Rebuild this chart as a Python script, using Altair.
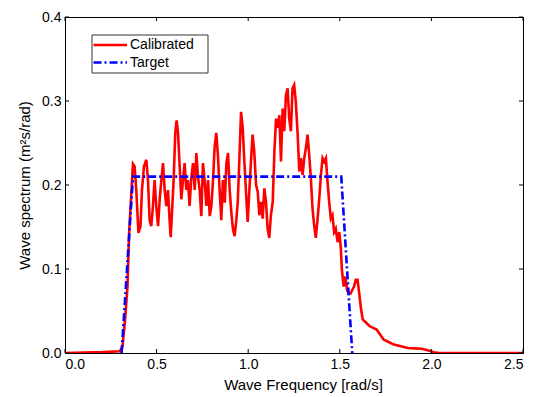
import altair as alt
import pandas as pd

# ---- data ----
series_names = ["Calibrated", "Target"]

calib_x = [0.0, 0.205, 0.299, 0.314, 0.328, 0.341, 0.350, 0.362, 0.371,
           0.380, 0.389, 0.401, 0.412, 0.420, 0.431, 0.444, 0.453, 0.462, 0.471, 0.480, 0.489,
           0.498, 0.508, 0.517, 0.526, 0.535, 0.544, 0.553, 0.562, 0.571, 0.577, 0.584, 0.593,
           0.602, 0.609, 0.617, 0.626, 0.635, 0.644, 0.653, 0.662, 0.671, 0.680, 0.690, 0.699,
           0.708, 0.717, 0.726, 0.735, 0.744, 0.753, 0.762, 0.772, 0.781, 0.790, 0.799, 0.808,
           0.817, 0.826, 0.835, 0.844, 0.853, 0.862, 0.872, 0.881, 0.890, 0.899, 0.908, 0.917,
           0.926, 0.935,
           0.943, 0.952, 0.961, 0.970, 0.979, 0.988, 0.997, 1.006, 1.015, 1.024, 1.033, 1.043,
           1.052, 1.061, 1.070, 1.079, 1.088, 1.097, 1.106, 1.115, 1.124, 1.134, 1.143, 1.152,
           1.161, 1.170, 1.179, 1.188, 1.197, 1.206, 1.215, 1.224, 1.233, 1.242, 1.251, 1.260,
           1.270, 1.279, 1.288, 1.297, 1.306, 1.315, 1.324, 1.333, 1.342, 1.351, 1.360, 1.369,
           1.379, 1.388, 1.397, 1.406, 1.415, 1.424, 1.433, 1.442, 1.451, 1.460, 1.469, 1.478,
           1.488, 1.497, 1.506,
           1.511, 1.521, 1.530, 1.540, 1.549, 1.559, 1.568, 1.578, 1.587, 1.597, 1.606, 1.616,
           1.625, 1.644, 1.663, 1.682, 1.701, 1.720, 1.739, 1.758, 1.795, 1.833, 1.871, 1.909,
           1.947, 1.985, 2.013, 2.042, 2.5]
calib_y = [0.0, 0.001, 0.002, 0.008, 0.040, 0.079, 0.143, 0.190, 0.225,
           0.222, 0.194, 0.143, 0.151, 0.194, 0.222, 0.230, 0.206, 0.158, 0.151, 0.175, 0.206,
           0.175, 0.151, 0.183, 0.206, 0.226, 0.194, 0.175, 0.194, 0.158, 0.138, 0.167, 0.206,
           0.262, 0.277, 0.262, 0.222, 0.183, 0.206, 0.226, 0.194, 0.206, 0.175, 0.210, 0.226,
           0.194, 0.238, 0.210, 0.194, 0.163, 0.226, 0.206, 0.175, 0.206, 0.163, 0.175, 0.206,
           0.246, 0.262, 0.234, 0.194, 0.158, 0.206, 0.179, 0.226, 0.238, 0.194, 0.167, 0.147,
           0.139, 0.158,
           0.180, 0.232, 0.287, 0.268, 0.228, 0.192, 0.156, 0.192, 0.228, 0.260, 0.240, 0.200,
           0.192, 0.164, 0.180, 0.160, 0.196, 0.180, 0.148, 0.137, 0.164, 0.180, 0.240, 0.279,
           0.268, 0.283, 0.228, 0.291, 0.264, 0.307, 0.315, 0.279, 0.264, 0.315, 0.319, 0.299,
           0.260, 0.216, 0.232, 0.212, 0.232, 0.244, 0.260, 0.236, 0.208, 0.172, 0.152, 0.137,
           0.160, 0.184, 0.212, 0.232, 0.228, 0.232, 0.204, 0.180, 0.160, 0.164, 0.144, 0.148,
           0.132, 0.144, 0.124,
           0.100, 0.079, 0.091, 0.075, 0.071, 0.071, 0.075, 0.079, 0.087, 0.087, 0.071, 0.052,
           0.040, 0.036, 0.032, 0.030, 0.028, 0.022, 0.016, 0.014, 0.010, 0.008, 0.006, 0.0055,
           0.005, 0.003, 0.001, 0.0, 0.0]

target_x = [0.309, 0.371, 1.508, 1.568]
target_y = [0.0, 0.21, 0.21, 0.0]

x_ticks = [0.0, 0.5, 1.0, 1.5, 2.0, 2.5]
y_ticks = [0.0, 0.1, 0.2, 0.3, 0.4]

W, H = 458, 336
FONT = "Arial, Liberation Sans, sans-serif"

calib_df = pd.DataFrame({"x": calib_x, "y": calib_y, "series": series_names[0]})
target_df = pd.DataFrame({"x": target_x, "y": target_y, "series": series_names[1]})
xt_df = pd.DataFrame({"t": x_ticks})
yt_df = pd.DataFrame({"t": y_ticks})

xscale = alt.Scale(domain=[0, 2.5], nice=False, zero=False)
yscale = alt.Scale(domain=[0, 0.4], nice=False, zero=False)

xaxis = alt.Axis(values=x_ticks, format=".1f", title="Wave Frequency [rad/s]", tickSize=0,
                 labelPadding=4, titlePadding=6, titleX=238, grid=False,
                 labelFont=FONT, labelFontSize=14, labelColor="black",
                 titleFont=FONT, titleFontSize=15, titleFontWeight="normal", titleColor="black",
                 domainColor="black")
yaxis = alt.Axis(values=y_ticks, format=".1f", title="Wave spectrum (m²s/rad)", tickSize=0,
                 labelPadding=4, titlePadding=9, grid=False,
                 labelFont=FONT, labelFontSize=14, labelColor="black",
                 titleFont=FONT, titleFontSize=15, titleFontWeight="normal", titleColor="black",
                 domainColor="black")

red = alt.Chart(calib_df).mark_line(color="#FF0000", strokeWidth=2.6, clip=True).encode(
    x=alt.X("x:Q", scale=xscale, axis=xaxis),
    y=alt.Y("y:Q", scale=yscale, axis=yaxis),
    order="x:Q",
)
blue = alt.Chart(target_df).mark_line(color="#0000FF", strokeWidth=2.6,
                                      strokeDash=[8, 3, 2, 3]).encode(
    x=alt.X("x:Q", scale=xscale),
    y=alt.Y("y:Q", scale=yscale),
    order="x:Q",
)

# inward ticks on all four sides
tick_len = 4
bt = alt.Chart(xt_df).mark_rule(color="black", strokeWidth=1).encode(
    x=alt.X("t:Q", scale=xscale), y=alt.value(H), y2=alt.value(H - tick_len))
tt = alt.Chart(xt_df).mark_rule(color="black", strokeWidth=1).encode(
    x=alt.X("t:Q", scale=xscale), y=alt.value(0), y2=alt.value(tick_len))
lt = alt.Chart(yt_df).mark_rule(color="black", strokeWidth=1).encode(
    y=alt.Y("t:Q", scale=yscale), x=alt.value(0), x2=alt.value(tick_len))
rt = alt.Chart(yt_df).mark_rule(color="black", strokeWidth=1).encode(
    y=alt.Y("t:Q", scale=yscale), x=alt.value(W), x2=alt.value(W - tick_len))

# legend box
leg_df = pd.DataFrame({"name": series_names})
box = alt.Chart(leg_df.head(1)).mark_rect(fill="white", stroke="#333333", strokeWidth=1).encode(
    x=alt.value(27), x2=alt.value(143), y=alt.value(18), y2=alt.value(56))
leg_red = alt.Chart(leg_df.head(1)).mark_rule(color="#FF0000", strokeWidth=2.6).encode(
    x=alt.value(28.5), x2=alt.value(62), y=alt.value(28))
leg_blue = alt.Chart(leg_df.head(1)).mark_rule(color="#0000FF", strokeWidth=2.6,
                                               strokeDash=[8, 3, 2, 3]).encode(
    x=alt.value(28.5), x2=alt.value(62), y=alt.value(45.5))
leg_t1 = alt.Chart(leg_df.iloc[[0]]).mark_text(align="left", baseline="middle", fontSize=14,
                                               font=FONT, color="black").encode(
    x=alt.value(65), y=alt.value(28), text="name:N")
leg_t2 = alt.Chart(leg_df.iloc[[1]]).mark_text(align="left", baseline="middle", fontSize=14,
                                               font=FONT, color="black").encode(
    x=alt.value(65), y=alt.value(45.5), text="name:N")

chart = alt.layer(red, blue, bt, tt, lt, rt, box, leg_red, leg_blue, leg_t1, leg_t2).properties(
    width=W, height=H,
    background="white",
    autosize=alt.AutoSizeParams(type="none"),
    padding={"left": 65, "top": 17, "right": 19, "bottom": 44},
).configure_view(
    stroke="black", strokeWidth=1
)

chart.save("out.html", embed_options={"renderer": "svg", "actions": False})
